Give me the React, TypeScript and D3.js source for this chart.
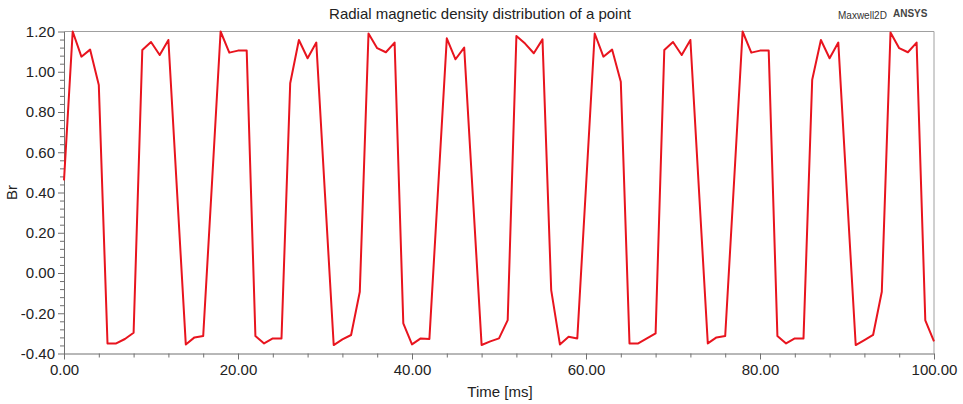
import React, { useEffect, useRef } from 'react';
import * as d3 from 'd3';

// sample times [ms], one sample per ms
const timeMs: number[] = d3.range(0, 101);

// Br values
const brValues: number[] = [
  0.46, 1.2, 1.075, 1.11, 0.934, -0.35, -0.35, -0.328, -0.297, 1.108,
  1.148, 1.083, 1.158, 0.4, -0.355, -0.32, -0.313, 0.44, 1.2, 1.095,
  1.105, 1.105, -0.313, -0.35, -0.325, -0.325, 0.943, 1.158, 1.067, 1.145,
  0.39, -0.358, -0.33, -0.308, -0.093, 1.19, 1.117, 1.097, 1.145, -0.25,
  -0.355, -0.325, -0.328, 0.42, 1.166, 1.062, 1.12, 0.38, -0.358, -0.34,
  -0.325, -0.234, 1.178, 1.14, 1.092, 1.161, -0.085, -0.355, -0.317, -0.325,
  0.43, 1.19, 1.075, 1.11, 0.95, -0.35, -0.35, -0.325, -0.3, 1.108,
  1.148, 1.083, 1.158, 0.4, -0.35, -0.32, -0.313, 0.44, 1.2, 1.095,
  1.105, 1.105, -0.313, -0.35, -0.325, -0.325, 0.96, 1.158, 1.067, 1.145,
  0.39, -0.358, -0.333, -0.308, -0.093, 1.195, 1.117, 1.097, 1.145, -0.235,
  -0.34,
];

const xMajorTicks = [0, 20, 40, 60, 80, 100];
const yMajorTicks = [-0.4, -0.2, 0, 0.2, 0.4, 0.6, 0.8, 1.0, 1.2];

const title = 'Radial magnetic density distribution of a point';
const xTitle = 'Time [ms]';
const yTitle = 'Br';

function App() {
  const ref = useRef<SVGSVGElement>(null);

  useEffect(() => {
    const width = 963;
    const height = 404;
    const margin = { top: 31.5, right: 29, bottom: 50.5, left: 64 };
    const font = '"Liberation Sans", Arial, sans-serif';

    const svg = d3.select(ref.current);
    svg.selectAll('*').remove();

    const x = d3.scaleLinear().domain([0, 100]).range([margin.left, width - margin.right]);
    const y = d3.scaleLinear().domain([-0.4, 1.2]).range([height - margin.bottom, margin.top]);

    svg.append('rect').attr('width', width).attr('height', height).attr('fill', 'white');

    // frame top + right
    svg.append('path')
      .attr('d', `M${x(0)},${y(1.2)}H${x(100)}V${y(-0.4)}`)
      .attr('fill', 'none')
      .attr('stroke', '#a0a0a0')
      .attr('stroke-width', 1);

    // minor ticks
    const xMinor = d3.range(0, 100.001, 4).filter((d) => d % 20 !== 0);
    const yMinor = d3.range(-0.4, 1.2001, 0.04).filter((d) => Math.abs(Math.round(d / 0.2) * 0.2 - d) > 1e-6);

    svg.append('g')
      .attr('transform', `translate(0,${y(-0.4)})`)
      .call(d3.axisBottom(x).tickValues(xMinor).tickSize(4).tickFormat(() => ''))
      .call((g) => g.select('.domain').remove())
      .selectAll('line').attr('stroke', '#707070');

    svg.append('g')
      .attr('transform', `translate(${x(0)},0)`)
      .call(d3.axisLeft(y).tickValues(yMinor).tickSize(4).tickFormat(() => ''))
      .call((g) => g.select('.domain').remove())
      .selectAll('line').attr('stroke', '#707070');

    // major axes
    const xAxis = svg.append('g')
      .attr('transform', `translate(0,${y(-0.4)})`)
      .call(d3.axisBottom(x).tickValues(xMajorTicks).tickSize(6).tickSizeOuter(0).tickPadding(5)
        .tickFormat((d) => (d as number).toFixed(2)));
    xAxis.select('.domain').attr('stroke', '#707070');
    xAxis.selectAll('line').attr('stroke', '#707070');
    xAxis.selectAll('text').style('font-family', font).style('font-size', '15px').attr('fill', '#222');

    const yAxis = svg.append('g')
      .attr('transform', `translate(${x(0)},0)`)
      .call(d3.axisLeft(y).tickValues(yMajorTicks).tickSize(6).tickSizeOuter(0).tickPadding(3)
        .tickFormat((d) => (d as number).toFixed(2)));
    yAxis.select('.domain').attr('stroke', '#707070');
    yAxis.selectAll('line').attr('stroke', '#707070');
    yAxis.selectAll('text').style('font-family', font).style('font-size', '15px').attr('fill', '#222');

    // curve
    const line = d3.line<number>()
      .x((_, i) => x(timeMs[i]))
      .y((d) => y(d));

    svg.append('path')
      .datum(brValues)
      .attr('d', line)
      .attr('fill', 'none')
      .attr('stroke', '#e8141e')
      .attr('stroke-width', 2)
      .attr('stroke-linejoin', 'round');

    // texts
    svg.append('text')
      .attr('x', 480).attr('y', 19)
      .attr('text-anchor', 'middle')
      .style('font-family', font).style('font-size', '15px').attr('fill', '#222')
      .text(title);

    svg.append('text')
      .attr('x', 838).attr('y', 19)
      .style('font-family', font).style('font-size', '10px').attr('fill', '#333')
      .text('Maxwell2D');

    svg.append('text')
      .attr('x', 893).attr('y', 17)
      .style('font-family', font).style('font-size', '10px').style('font-weight', 'bold').attr('fill', '#444')
      .text('ANSYS');

    svg.append('text')
      .attr('x', 500).attr('y', 397)
      .attr('text-anchor', 'middle')
      .style('font-family', font).style('font-size', '15px').attr('fill', '#222')
      .text(xTitle);

    svg.append('text')
      .attr('transform', `translate(17,${y(0.4)}) rotate(-90)`)
      .attr('text-anchor', 'middle')
      .style('font-family', font).style('font-size', '15px').attr('fill', '#222')
      .text(yTitle);
  }, []);

  return (
    <svg
      ref={ref}
      width={963}
      height={404}
      style={{ position: 'absolute', left: 0, top: 0, display: 'block' }}
    />
  );
}

export default App;
